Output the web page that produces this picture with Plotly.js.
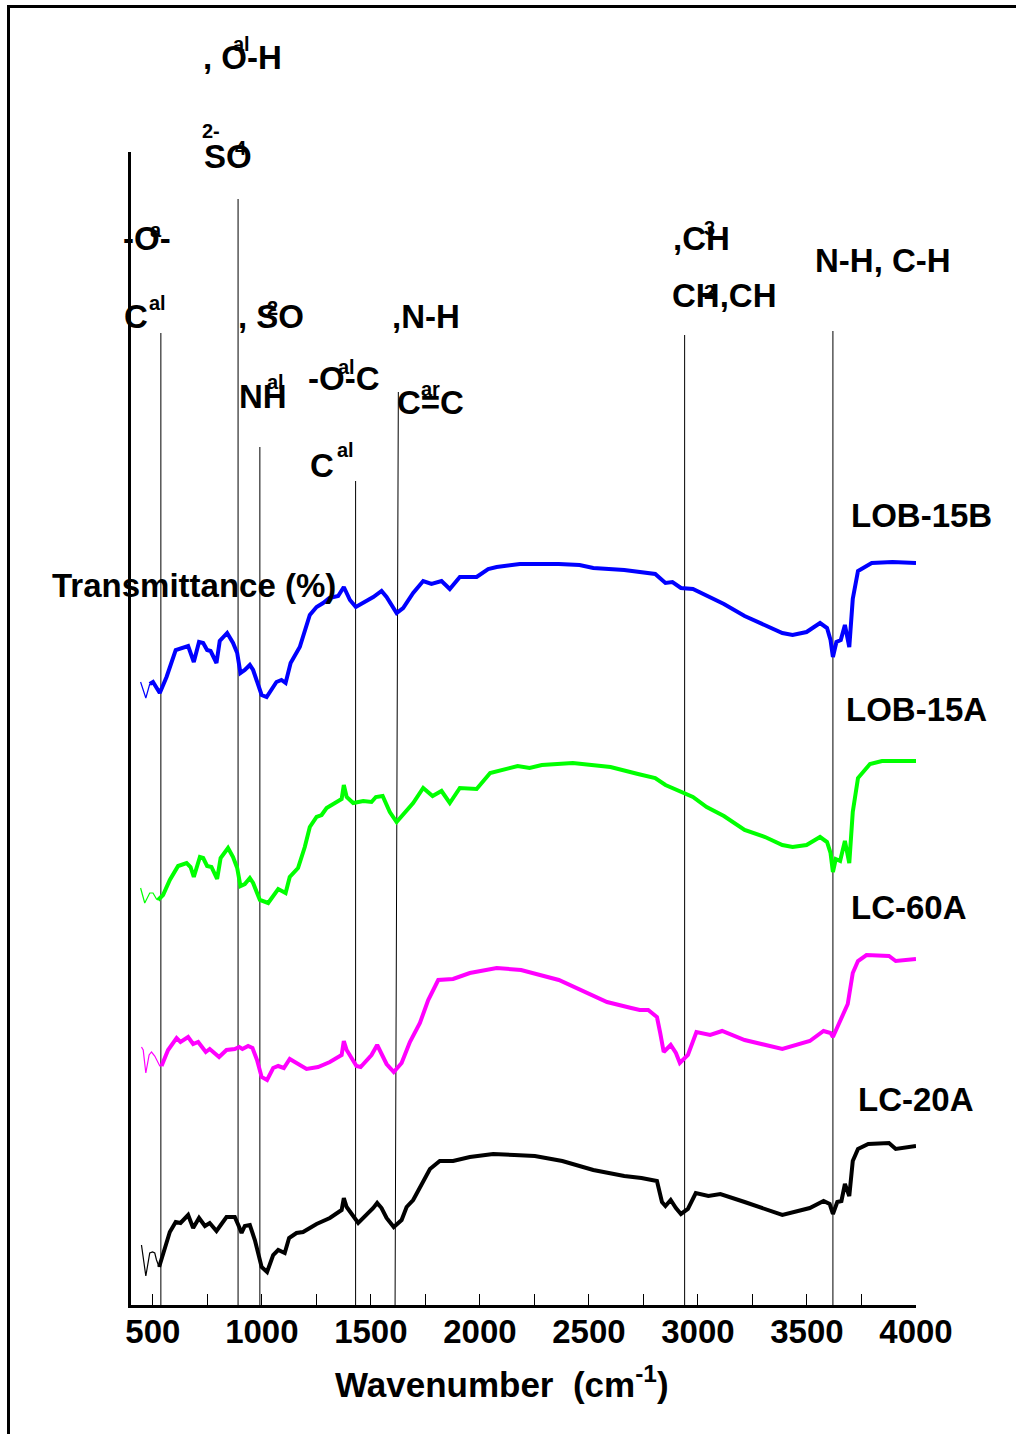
<!DOCTYPE html>
<html>
<head>
<meta charset="utf-8">
<script src="https://cdn.plot.ly/plotly-3.0.1.min.js"></script>
<style>html,body{margin:0;padding:0;background:#fff;}#chart{width:1016px;height:1434px;}</style>
</head>
<body>
<div id="chart"></div>
<script>
// ---- Data (wavenumber in cm-1, transmittance in arbitrary offset units) ----
const seriesNames = ["LOB-15B", "LOB-15A", "LC-60A", "LC-20A"];
const seriesColors = ["#0000FF", "#00FF00", "#FF00FF", "#000000"];

const lob15bWn = [486,501,532,563,605,632,662,688,712,731,749,765,792,807,841,868,887,902,922,945,960,999,1022,1067,1090,1109,1132,1174,1220,1251,1281,1309,1350,1376,1404,1431,1465,1511,1549,1572,1618,1648,1694,1740,1778,1824,1862,1908,1985,2038,2077,2183,2362,2457,2520,2662,2804,2827,2851,2883,2922,2977,3040,3119,3214,3308,3387,3434,3498,3560,3592,3608,3619,3635,3655,3674,3694,3710,3734,3797,3892,4000];
const lob15bT = [62.1,62.3,61.2,62.8,65.5,65.7,65.9,64.3,66.3,66.2,65.5,65.4,64.2,66.4,67.2,66.2,65.2,63.2,63.5,64.0,63.5,61.0,60.8,62.3,62.5,62.2,64.2,65.8,69.0,69.8,70.2,70.7,70.9,71.8,70.5,69.8,70.2,70.8,71.4,70.8,69.2,69.7,71.2,72.4,72.1,72.4,71.6,72.8,72.8,73.6,73.8,74.1,74.1,74.0,73.7,73.5,73.1,72.7,72.2,72.3,71.7,71.6,70.9,70.1,68.9,68.0,67.2,67.0,67.3,68.2,67.7,66.5,64.8,66.3,66.5,68.0,65.8,70.6,73.4,74.2,74.3,74.2];
const lob15bLowWn = [444,468,486];
const lob15bLowT = [62.3,60.7,62.1];

const lob15aWn = [524,547,578,616,655,673,688,716,731,749,769,795,811,845,868,887,902,922,945,960,991,1029,1075,1109,1128,1166,1197,1220,1251,1274,1297,1335,1366,1376,1389,1419,1465,1503,1523,1554,1587,1618,1656,1694,1740,1783,1824,1862,1908,1985,2047,2110,2173,2228,2284,2426,2599,2725,2804,2851,2930,2977,3040,3119,3214,3308,3387,3434,3498,3560,3592,3608,3619,3632,3652,3674,3694,3710,3734,3789,3844,4000];
const lob15aT = [40.5,41.0,42.5,43.9,44.2,43.8,42.8,44.8,44.7,43.9,43.8,42.6,44.7,45.7,44.8,43.7,41.9,42.1,42.7,42.2,40.5,40.2,41.6,41.2,42.8,43.7,45.8,47.8,48.8,49.0,49.7,50.2,50.6,52.0,50.8,50.2,50.4,50.3,50.8,50.9,49.3,48.3,49.2,50.2,51.7,50.9,51.4,50.2,51.7,51.6,53.2,53.5,53.9,53.7,54.0,54.2,53.8,53.1,52.7,52.0,51.3,50.8,49.8,48.9,47.5,46.8,46.0,45.8,46.0,46.8,46.3,45.2,43.3,44.6,44.4,46.4,44.2,49.3,52.7,54.1,54.4,54.4];
const lob15aLowWn = [444,463,486,501,517,524];
const lob15aLowT = [41.7,40.2,41.2,41.2,40.6,40.5];

const lc60aWn = [540,570,609,627,662,685,708,723,743,761,784,804,838,876,896,911,937,957,978,999,1024,1052,1075,1101,1128,1174,1205,1258,1312,1366,1376,1389,1434,1453,1480,1503,1529,1549,1572,1605,1641,1679,1725,1763,1809,1877,1954,2077,2189,2362,2583,2694,2733,2772,2812,2827,2843,2875,2899,2917,2954,2993,3056,3111,3214,3387,3513,3576,3608,3619,3647,3687,3710,3734,3773,3876,3907,4000];
const lc60aT = [23.9,25.5,26.7,26.3,26.8,26.1,26.3,25.9,25.3,25.6,25.2,24.8,25.5,25.6,25.8,25.6,25.9,25.7,24.5,22.8,22.5,23.7,23.9,23.7,24.6,24.0,23.6,23.8,24.3,25.0,26.4,25.5,23.9,23.8,24.5,25.0,26.0,25.2,24.1,23.3,24.2,26.3,28.2,30.5,32.5,32.6,33.2,33.7,33.5,32.5,30.3,29.7,29.5,29.5,28.8,27.2,25.3,26.0,25.2,24.2,25.0,27.3,27.0,27.4,26.5,25.6,26.4,27.4,27.2,26.8,28.1,30.1,33.2,34.4,35.0,34.9,34.4,34.6];
const lc60aLowWn = [448,456,468,483,494,509,532,540];
const lc60aLowT = [25.8,25.5,23.2,25.0,25.3,24.9,23.9,23.9];

const lc20aWn = [529,547,578,605,627,662,685,712,739,761,792,838,876,896,907,922,945,968,999,1024,1052,1075,1105,1125,1159,1189,1251,1312,1366,1376,1389,1442,1480,1511,1529,1549,1572,1605,1641,1664,1694,1725,1771,1816,1877,1954,2061,2158,2252,2378,2520,2662,2741,2812,2835,2851,2875,2899,2922,2954,2990,3048,3103,3214,3293,3387,3513,3576,3604,3619,3639,3658,3674,3694,3710,3734,3781,3876,3907,4000];
const lc20aT = [3.8,5.2,7.3,8.3,8.2,9.0,7.7,8.7,7.9,8.2,7.4,8.8,8.8,7.8,7.2,7.9,8.0,6.5,3.8,3.3,5.0,5.5,5.2,6.7,7.2,7.3,8.1,8.7,9.5,10.7,9.8,8.2,9.0,9.7,10.2,9.7,8.7,7.8,8.5,9.8,10.5,11.8,13.6,14.4,14.4,14.8,15.1,15.0,14.9,14.4,13.5,12.9,12.7,12.4,10.3,9.9,10.5,9.7,9.1,9.6,11.2,10.9,11.1,10.3,9.7,9.0,9.7,10.4,10.1,9.1,10.3,10.4,12.1,10.9,14.4,15.6,16.1,16.2,15.6,15.9];
const lc20aLowWn = [448,459,468,486,499,509,517,529];
const lc20aLowT = [6.0,4.5,2.9,5.2,5.3,5.2,4.5,3.8];

// assignment marker lines (wavenumber at bottom, wavenumber at top, top height)
const markerWnBottom = [537, 891, 991, 1430, 1611, 2939, 3619];
const markerWnTop    = [537, 891, 991, 1430, 1626, 2939, 3619];
const markerTop      = [97.2, 110.6, 85.8, 82.4, 91.3, 97.0, 97.4];

const tickVals = [500,1000,1500,2000,2500,3000,3500,4000];
const tickText = ["500","1000","1500","2000","2500","3000","3500","4000"];

// ---- Layout helpers ----
const W = 1016, H = 1434;
const M = {l: 131, r: 100, t: 152, b: 129};
const pxX = x => (x - M.l) / (W - M.l - M.r);
const pxY = y => (H - M.b - y) / (H - M.t - M.b);
const FONT = "Liberation Sans, Arial, Helvetica, sans-serif";

const mainSets = [
  [lob15bWn, lob15bT, lob15bLowWn, lob15bLowT],
  [lob15aWn, lob15aT, lob15aLowWn, lob15aLowT],
  [lc60aWn, lc60aT, lc60aLowWn, lc60aLowT],
  [lc20aWn, lc20aT, lc20aLowWn, lc20aLowT]
];

const traces = [];
mainSets.forEach((s, i) => {
  traces.push({x: s[2], y: s[3], mode: "lines", name: seriesNames[i] + " (low)",
    line: {color: seriesColors[i], width: 1.2}, showlegend: false, hoverinfo: "skip"});
  traces.push({x: s[0], y: s[1], mode: "lines", name: seriesNames[i],
    line: {color: seriesColors[i], width: 4}, showlegend: false});
});

const shapes = markerWnBottom.map((w, i) => ({
  type: "line", xref: "x", yref: "y", x0: w, y0: 0, x1: markerWnTop[i], y1: markerTop[i],
  line: {color: "#000", width: 1}, layer: "below"
}));
// outer frame
shapes.push({type: "rect", xref: "paper", yref: "paper",
  x0: pxX(8.5), x1: pxX(1030), y0: pxY(6.5), y1: pxY(1445),
  line: {color: "#000", width: 3}, fillcolor: "rgba(0,0,0,0)"});

// text labels: [text, left px, cap-centre px, size]
const labels = [
  [", O-H", 203, 57, 33],
  ["al", 233, 44, 20],
  ["2-", 202, 131, 20],
  ["SO", 204, 157, 33],
  ["4", 235, 148, 20],
  ["-O-", 123, 238, 33],
  ["a", 150, 230, 20],
  ["C", 124, 316, 33],
  ["al", 149, 303, 20],
  [", SO", 238, 316, 33],
  ["2", 267, 308, 20],
  ["NH", 239, 396, 33],
  ["al", 267, 382, 20],
  ["-O-C", 308, 379, 33],
  ["al", 338, 367, 20],
  ["C", 310, 466, 33],
  ["al", 337, 450, 20],
  [",N-H", 392, 316, 33],
  ["C=C", 397, 402, 33],
  ["ar", 421, 389, 20],
  [",CH", 673, 238, 33],
  ["3", 704, 228, 20],
  ["CH,CH", 672, 295, 33],
  ["2", 704, 292, 20],
  ["N-H, C-H", 815, 261, 33],
  ["LOB-15B", 851, 515, 33],
  ["LOB-15A", 846, 709, 33],
  ["LC-60A", 851, 907, 33],
  ["LC-20A", 858, 1099, 33],
  ["Transmittance (%)", 52, 585, 33],
  ["Wavenumber  (cm<sup>-1</sup>)", 335, 1382, 35]
];
const annotations = labels.map(l => ({
  text: l[0], xref: "paper", yref: "paper", x: pxX(l[1] - 2), y: pxY(l[2]),
  xanchor: "left", yanchor: "middle", showarrow: false,
  font: {family: FONT, size: l[3], color: "#000", weight: "bold"}
}));

const layout = {
  width: W, height: H,
  margin: M,
  paper_bgcolor: "#fff", plot_bgcolor: "#fff",
  showlegend: false,
  xaxis: {
    range: [400, 4000], showgrid: false, zeroline: false,
    showline: true, linecolor: "#000", linewidth: 3, mirror: false,
    ticks: "inside", ticklen: 11, tickwidth: 1, tickcolor: "#000",
    tickmode: "array", tickvals: tickVals, ticktext: tickText,
    ticklabelstandoff: -5,
    minor: {dtick: 250, tick0: 500, ticks: "inside", ticklen: 11, tickwidth: 1, tickcolor: "#000", showgrid: false},
    tickfont: {family: FONT, size: 33, color: "#000", weight: "bold"}
  },
  yaxis: {
    range: [0, 115.3], showgrid: false, zeroline: false,
    showline: true, linecolor: "#000", linewidth: 3,
    ticks: "", showticklabels: false
  },
  shapes: shapes,
  annotations: annotations
};

Plotly.newPlot("chart", traces, layout, {staticPlot: true, displayModeBar: false});
</script>
</body>
</html>
